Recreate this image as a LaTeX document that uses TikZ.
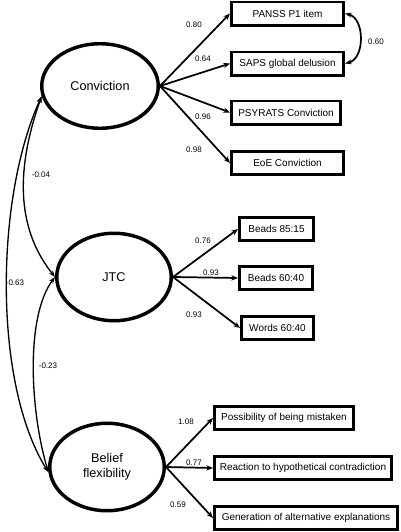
\documentclass[tikz,border=0pt]{standalone}
\usepackage{fontspec}
\setmainfont{Liberation Sans}
\usetikzlibrary{shapes.geometric,arrows.meta}
\begin{document}
\begin{tikzpicture}[x=0.75pt,y=0.75pt,yscale=-1,xscale=1,
    latent/.style={draw,ellipse,line width=2.6pt,inner sep=0pt,align=center,font=\fontsize{9.5}{11}\selectfont},
    item/.style={draw,rectangle,line width=2pt,minimum height=17.5pt,inner sep=1pt,font=\fontsize{7.5}{9}\selectfont},
    load/.style={-{Stealth[length=5pt,width=4pt]},line width=1.3pt},
    cov/.style={{Stealth[length=5pt,width=3.6pt]}-{Stealth[length=5pt,width=3.6pt]},line width=1pt},
    coef/.style={inner sep=0.75pt,font=\fontsize{6}{7}\selectfont}]
    \useasboundingbox (0,0) rectangle (400,532);
    \node [latent,minimum width=87.4pt,minimum height=63.4pt] (conv) at (100,86) {Conviction};
    \node [latent,minimum width=85.9pt,minimum height=65.6pt] (jtc) at (114,277) {JTC};
    \node [latent,minimum width=85.9pt,minimum height=65.6pt] (flex) at (107,467) {Belief\\flexibility};
    \node [item,minimum width=84.25pt] (panss) at (287.5,13.5) {PANSS P1 item};
    \node [item,minimum width=84.25pt] (saps) at (287.5,63.5) {SAPS global delusion};
    \node [item,minimum width=82pt] (psyrats) at (286,112.5) {PSYRATS Conviction};
    \node [item,minimum width=84.25pt] (eoe) at (287.5,163) {EoE Conviction};
    \node [item,minimum width=55.75pt] (beadsA) at (276.5,229) {Beads 85:15};
    \node [item,minimum width=55pt] (beadsB) at (276,278) {Beads 60:40};
    \node [item,minimum width=54.25pt] (words) at (277.5,328) {Words 60:40};
    \node [item,minimum width=104.5pt] (mistaken) at (284,418) {Possibility of being mistaken};
    \node [item,minimum width=133pt] (reaction) at (303,468) {Reaction to hypothetical contradiction};
    \node [item,minimum width=137.5pt] (altexp) at (306,518) {Generation of alternative explanations};
    \draw [load] (conv.east) -- (panss.west);
    \draw [load] (conv.east) -- (saps.west);
    \draw [load] (conv.east) -- (psyrats.west);
    \draw [load] (conv.east) -- (eoe.west);
    \draw [load] (jtc.east) -- (beadsA.west);
    \draw [load] (jtc.east) -- (beadsB.west);
    \draw [load] (jtc.east) -- (words.west);
    \draw [load] (flex.east) -- (mistaken.west);
    \draw [load] (flex.east) -- (reaction.west);
    \draw [load] (flex.east) -- (altexp.west);
    \draw [cov,line width=1.3pt] (panss.east) .. controls +(20,5) and +(20,-5) .. (saps.east);
    \draw [cov] (conv.190) .. controls +(-25,70) and +(-40,-50) .. (jtc.west);
    \draw [cov] (conv.190) .. controls +(-46,100) and +(-56,-90) .. (flex.185);
    \draw [cov] (jtc.west) .. controls +(-30,40) and +(-18,-60) .. (flex.185);
    \node [coef] (c1) at (194,25) {0.80};
    \node [coef] (c2) at (203,59) {0.64};
    \node [coef] (c3) at (203,117) {0.96};
    \node [coef] (c4) at (194,150) {0.98};
    \node [coef] (c5) at (376,42) {0.60};
    \node [coef] (c6) at (203,241) {0.76};
    \node [coef] (c7) at (211,273) {0.93};
    \node [coef] (c8) at (194,315) {0.93};
    \node [coef] (c9) at (41,175) {-0.04};
    \node [coef] (c10) at (15,283) {-0.63};
    \node [coef] (c11) at (48,366) {-0.23};
    \node [coef] (c12) at (186,422) {1.08};
    \node [coef] (c13) at (194,463) {0.77};
    \node [coef] (c14) at (178,505) {0.59};
\end{tikzpicture}
\end{document}
